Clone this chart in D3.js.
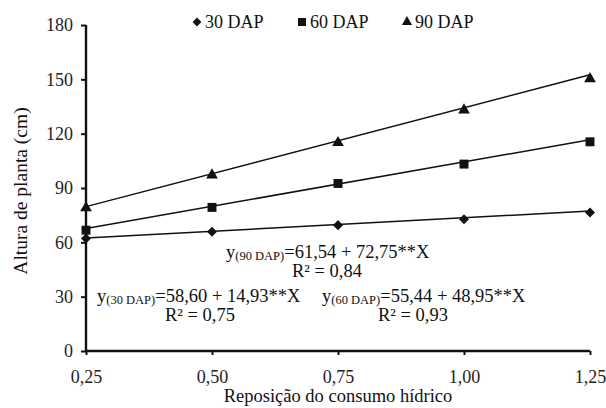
<!DOCTYPE html>
<html>
<head>
<meta charset="utf-8">
<script src="https://cdn.jsdelivr.net/npm/d3@7"></script>
<style>
  body { margin: 0; background: #fff; font-family: 'Liberation Serif'; }
</style>
</head>
<body>
<div id="chart"></div>
<script>
// doses of water replacement (x) and plant height per evaluation date
var doses = [0.25, 0.50, 0.75, 1.00, 1.25]
var dap30 = [62.1, 65.8, 69.5, 72.8, 76.5]
var dap60 = [66.7, 79.3, 92.5, 103.2, 115.5]
var dap90 = [79.0, 97.1, 115.0, 133.0, 150.3]
var seriesNames = ['30 DAP', '60 DAP', '90 DAP']
// fitted equations: intercept, slope
var intercepts = [58.60, 55.44, 61.54]
var slopes = [14.93, 48.95, 72.75]
var yTicks = [0, 30, 60, 90, 120, 150, 180]
var xTickLabels = ['0,25', '0,50', '0,75', '1,00', '1,25']

var FONT = "'Liberation Serif'"

var svgWidth = 606, svgHeight = 408
var margin = {top: 25, right: 16, bottom: 57, left: 86}
var width = svgWidth - margin.left - margin.right
var height = svgHeight - margin.top - margin.bottom

var svg = d3.select('#chart').append('svg')
    .attr('width', svgWidth)
    .attr('height', svgHeight)
    .attr('font-family', FONT)

var chartGroup = svg.append('g')
    .attr('transform', `translate(${margin.left}, ${margin.top})`)

var xScale = d3.scaleLinear().domain([0.25, 1.25]).range([0, width])
var yScale = d3.scaleLinear().domain([0, 180]).range([height, 0])

//axes
var xAxis = d3.axisBottom(xScale).tickValues(doses)
    .tickFormat((d, i) => xTickLabels[i]).tickSize(4).tickPadding(15)
var yAxis = d3.axisLeft(yScale).tickValues(yTicks).tickSize(5).tickPadding(8)

var gx = chartGroup.append('g').attr('transform', `translate(0, ${height})`).call(xAxis)
var gy = chartGroup.append('g').call(yAxis)
;[gx, gy].forEach(function(g) {
    g.attr('font-family', FONT).attr('font-size', 18)
    g.select('.domain').attr('stroke', '#111').attr('stroke-width', 2.4)
    g.selectAll('.tick line').attr('stroke', '#111').attr('stroke-width', 2)
    g.selectAll('.tick text').attr('fill', '#222')
})
gx.select('.domain').attr('d', `M0,0H${width}`)
gy.select('.domain').attr('d', `M0,${height}V0`)

//series
var allSeries = [dap30, dap60, dap90]
var symbols = [d3.symbolDiamond2, d3.symbolSquare, d3.symbolTriangle]
var symSizes = [64, 80, 60]

allSeries.forEach(function(vals, s) {
    // regression line
    chartGroup.append('line')
        .attr('x1', xScale(0.25)).attr('x2', xScale(1.25))
        .attr('y1', yScale(intercepts[s] + slopes[s] * 0.25))
        .attr('y2', yScale(intercepts[s] + slopes[s] * 1.25))
        .attr('stroke', '#111').attr('stroke-width', 1.5)

    chartGroup.selectAll('.pt' + s)
        .data(vals)
        .enter()
        .append('path')
        .attr('class', 'pt' + s)
        .attr('d', d3.symbol().type(symbols[s]).size(symSizes[s]))
        .attr('transform', (d, i) => `translate(${xScale(doses[i])}, ${yScale(d)})`)
        .attr('fill', '#111')
})

//legend
var legendX = [197, 302, 407]
seriesNames.forEach(function(name, s) {
    svg.append('path')
        .attr('d', d3.symbol().type(symbols[s]).size(symSizes[s] - 15))
        .attr('transform', `translate(${legendX[s]}, 22)`)
        .attr('fill', '#111')
    svg.append('text')
        .attr('x', legendX[s] + 8).attr('y', 28)
        .attr('font-family', FONT).attr('font-size', 18)
        .attr('fill', '#111')
        .text(name)
})

//equations
var eqs = [
    {sub: '(30 DAP)', eq: '=58,60 + 14,93**X', r2: 'R² = 0,75', x: 97, y: 302, rx: 165},
    {sub: '(60 DAP)', eq: '=55,44 + 48,95**X', r2: 'R² = 0,93', x: 322, y: 302, rx: 378},
    {sub: '(90 DAP)', eq: '=61,54 + 72,75**X', r2: 'R² = 0,84', x: 226, y: 258, rx: 292}
]
eqs.forEach(function(e) {
    var t = svg.append('text').attr('x', e.x).attr('y', e.y)
        .attr('font-family', FONT).attr('font-size', 18.5).attr('fill', '#111')
    t.append('tspan').text('y')
    t.append('tspan').attr('font-size', 12.5).attr('dy', 2).text(e.sub)
    t.append('tspan').attr('dy', -2).text(e.eq)
    svg.append('text').attr('x', e.rx).attr('y', e.y + 19)
        .attr('font-family', FONT).attr('font-size', 18.5).attr('fill', '#111').text(e.r2)
})

//axis titles
svg.append('text')
    .attr('transform', `translate(${margin.left + width / 2}, 402)`)
    .attr('text-anchor', 'middle')
    .attr('font-family', FONT).attr('font-size', 18.5).attr('fill', '#111')
    .text('Reposição do consumo hídrico')

svg.append('text')
    .attr('transform', `translate(27, ${margin.top + height / 2 + 3}) rotate(-90)`)
    .attr('text-anchor', 'middle')
    .attr('font-family', FONT).attr('font-size', 19.5).attr('fill', '#111')
    .text('Altura de planta (cm)')
</script>
</body>
</html>
